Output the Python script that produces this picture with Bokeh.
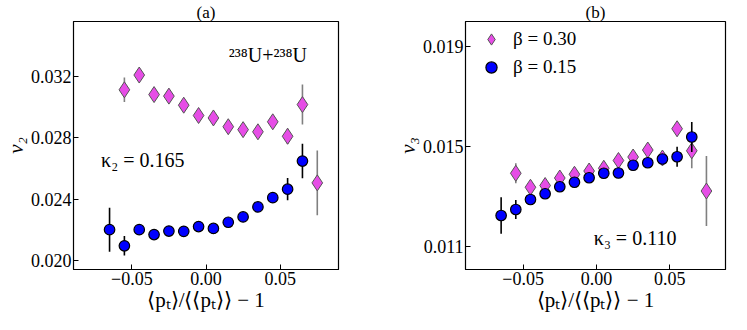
from bokeh.plotting import figure
from bokeh.layouts import row
from bokeh.models import ColumnDataSource, Range1d, FixedTicker, Label, Legend, LegendItem
from bokeh.embed import file_html
from bokeh.resources import INLINE

# ---------------- data ----------------
x_beta030 = [-0.055, -0.045, -0.035, -0.025, -0.015, -0.005, 0.005, 0.015, 0.025, 0.035, 0.045, 0.055, 0.065, 0.075]
x_beta015 = [-0.065, -0.055, -0.045, -0.035, -0.025, -0.015, -0.005, 0.005, 0.015, 0.025, 0.035, 0.045, 0.055, 0.065]

v2_beta030 = [0.03112, 0.03208, 0.03081, 0.03071, 0.03012, 0.02945, 0.02929, 0.02872, 0.02853, 0.02839, 0.02904, 0.02810, 0.03016, 0.02507]
v2_beta030_err = [0.0008, 0.0003, 0.0003, 0.0003, 0.0003, 0.0003, 0.0003, 0.0003, 0.0003, 0.0003, 0.0003, 0.0005, 0.0013, 0.0021]
v2_beta015 = [0.02203, 0.02098, 0.02203, 0.02171, 0.02194, 0.02192, 0.02223, 0.02211, 0.02251, 0.02286, 0.02351, 0.02411, 0.02466, 0.02649]
v2_beta015_err = [0.00143, 0.00063, 0.0002, 0.0002, 0.0002, 0.0002, 0.0002, 0.0002, 0.0002, 0.0002, 0.0002, 0.0003, 0.00072, 0.00112]

v3_beta030 = [0.01391, 0.01335, 0.01342, 0.01372, 0.01387, 0.01400, 0.01411, 0.01442, 0.01456, 0.01484, 0.01452, 0.01569, 0.01481, 0.01320]
v3_beta030_err = [0.0004, 0.0002, 0.0002, 0.0002, 0.0002, 0.0002, 0.0002, 0.0002, 0.0002, 0.0002, 0.0002, 0.0003, 0.0007, 0.0014]
v3_beta015 = [0.01222, 0.01246, 0.01286, 0.01309, 0.01337, 0.01355, 0.01373, 0.01391, 0.01392, 0.01423, 0.01433, 0.01448, 0.01457, 0.01536]
v3_beta015_err = [0.00073, 0.00038, 0.0002, 0.0002, 0.0002, 0.0002, 0.0002, 0.0002, 0.0002, 0.0002, 0.0002, 0.0002, 0.0004, 0.0006]

x_ticks = [-0.05, 0.0, 0.05]
x_tick_labels = ["\u22120.05", "0.00", "0.05"]
v2_ticks = [0.020, 0.024, 0.028, 0.032]
v2_tick_labels = ["0.020", "0.024", "0.028", "0.032"]
v3_ticks = [0.011, 0.015, 0.019]
v3_tick_labels = ["0.011", "0.015", "0.019"]

legend_labels = ["\u03b2 = 0.30", "\u03b2 = 0.15"]
x_label = "\u27e8p\u209c\u27e9/\u27e8\u27e8p\u209c\u27e9\u27e9 \u2212 1"

FONT = "Liberation Serif"
PINK = "#E64DE6"
BLUE = "#0000FF"


def src(x, y, e):
    return ColumnDataSource(dict(x=x, y=y,
                                 lo=[a - b for a, b in zip(y, e)],
                                 hi=[a + b for a, b in zip(y, e)]))


def style(p, title, ylab, yt, ytl):
    p.title.text = title
    p.title.align = "center"
    p.title.text_font = FONT
    p.title.text_font_size = "17px"
    p.title.text_font_style = "normal"
    p.title.text_color = "black"
    p.title.standoff = 0
    p.xgrid.visible = False
    p.ygrid.visible = False
    p.outline_line_color = "black"
    p.outline_line_width = 1.2
    p.outline_line_alpha = 1
    for ax in (p.xaxis[0], p.yaxis[0]):
        ax.major_tick_in = 5
        ax.major_tick_out = 0
        ax.minor_tick_line_color = None
        ax.major_label_text_font = FONT
        ax.major_label_text_font_size = "18px"
        ax.major_label_text_color = "black"
        ax.axis_label_text_font = FONT
        ax.axis_label_text_font_size = "21px"
        ax.axis_label_text_font_style = "normal"
        ax.axis_label_text_color = "black"
        ax.axis_line_color = "black"
        ax.major_tick_line_color = "black"
    p.xaxis.ticker = FixedTicker(ticks=x_ticks)
    p.xaxis.major_label_overrides = dict(zip(x_ticks, x_tick_labels))
    p.xaxis.axis_label = x_label
    p.xaxis.major_label_standoff = 2
    p.xaxis.axis_label_standoff = 0
    p.yaxis.ticker = FixedTicker(ticks=yt)
    p.yaxis.major_label_overrides = dict(zip(yt, ytl))
    p.yaxis.axis_label = ylab
    p.yaxis.axis_label_text_font_style = "italic"
    p.yaxis.major_label_standoff = 2
    p.yaxis.axis_label_standoff = 0


def draw(p, xa, ya, ea, xb, yb, eb):
    s1 = src(xa, ya, ea)
    s2 = src(xb, yb, eb)
    p.segment(x0="x", y0="lo", x1="x", y1="hi", source=s1, line_color="#808080", line_width=1.6)
    r1 = p.scatter("x", "y", source=s1, marker="diamond", size=16, fill_color=PINK,
                   line_color="#555555", line_width=1)
    p.segment(x0="x", y0="lo", x1="x", y1="hi", source=s2, line_color="black", line_width=1.6)
    r2 = p.scatter("x", "y", source=s2, marker="circle", size=10.5, fill_color=BLUE,
                   line_color="black", line_width=1.2)
    return r1, r2


# ---------------- panel (a) ----------------
p1 = figure(width=392, height=314, output_backend="svg", toolbar_location=None,
            x_range=Range1d(-0.0893, 0.0893), y_range=Range1d(0.01944, 0.03556),
            min_border_left=60, min_border_right=54, min_border_top=16, min_border_bottom=40)
style(p1, "(a)", "v\u2082", v2_ticks, v2_tick_labels)
draw(p1, x_beta030, v2_beta030, v2_beta030_err, x_beta015, v2_beta015, v2_beta015_err)
p1.add_layout(Label(x=0.068, y=0.0334, text="\u00b2\u00b3\u2078U+\u00b2\u00b3\u2078U", text_align="right",
                    text_baseline="middle", text_font=FONT, text_font_size="20px", text_color="black"))
p1.add_layout(Label(x=-0.0707, y=0.02656, text="\u03ba\u2082 = 0.165", text_align="left",
                    text_baseline="middle", text_font=FONT, text_font_size="20px", text_color="black"))

# ---------------- panel (b) ----------------
p2 = figure(width=339, height=314, output_backend="svg", toolbar_location=None,
            x_range=Range1d(-0.0893, 0.0880), y_range=Range1d(0.01006, 0.01998),
            min_border_left=66, min_border_right=6, min_border_top=16, min_border_bottom=40)
style(p2, "(b)", "v\u2083", v3_ticks, v3_tick_labels)
r1, r2 = draw(p2, x_beta030, v3_beta030, v3_beta030_err, x_beta015, v3_beta015, v3_beta015_err)
p2.add_layout(Label(x=-0.0018, y=0.01134, text="\u03ba\u2083 = 0.110", text_align="left",
                    text_baseline="middle", text_font=FONT, text_font_size="20px", text_color="black"))
leg = Legend(items=[LegendItem(label=legend_labels[0], renderers=[r1]),
                    LegendItem(label=legend_labels[1], renderers=[r2])],
             location="top_left", margin=4, padding=4, spacing=-4,
             glyph_height=28, glyph_width=44, label_standoff=0,
             label_text_font=FONT, label_text_font_size="19px", label_text_color="black",
             border_line_color=None, background_fill_alpha=0)
p2.add_layout(leg)

layout = row(p1, p2)
open("out.html", "w").write(file_html(layout, INLINE))
